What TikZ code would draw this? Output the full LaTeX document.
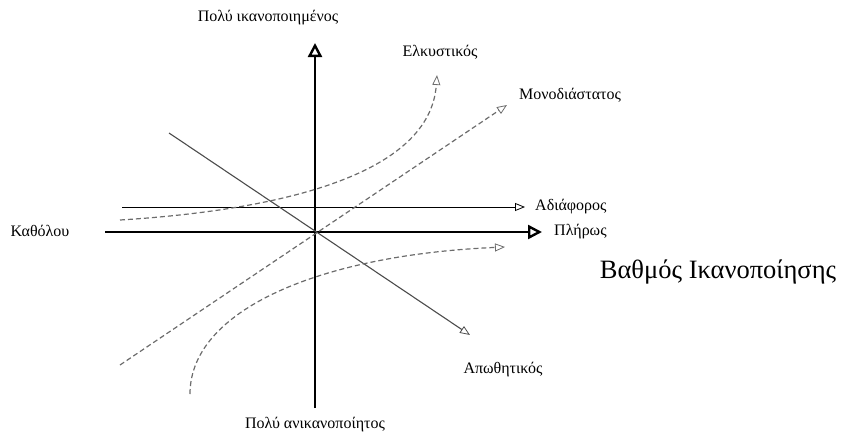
\documentclass[tikz,border=0pt]{standalone}
\usepackage{fontspec}
\setmainfont{Liberation Serif}
\usetikzlibrary{positioning,arrows.meta}

\tikzset{
  axisline/.style={line width=2.8pt, -{Triangle[open, length=14pt, width=14pt, line width=2.4pt]}},
  thinarrow/.style={-{Triangle[open, length=10pt, width=8pt, line width=0.8pt]}},
  curveline/.style={thinarrow, gray!85!black, line width=1.2pt, dash pattern=on 5pt off 3pt},
  lbl/.style={font=\fontsize{16}{18}\selectfont, inner sep=1pt},
}

\begin{document}
\begin{tikzpicture}[x=1pt, y=-1pt]
  \useasboundingbox (0,0) rectangle (848,437);
  % --- axes ---
  \coordinate (O) at (315,232);
  \coordinate (xl) at (105,232);
  \coordinate (xr) at (542,232);
  \coordinate (yb) at (315,408);
  \coordinate (yt) at (315,43);
  \draw[line width=2.8pt] (xl) -- (O);
  \draw[axisline] (O) -- (xr);
  \draw[line width=2.8pt] (yb) -- (O);
  \draw[axisline] (O) -- (yt);
  \node[lbl] (top) at (268,18) {Πολύ ικανοποιημένος};
  \node[lbl] (bottom) at (315,425) {Πολύ ανικανοποίητος};
  \node[lbl] (none) at (40,231) {Καθόλου};
  \node[lbl, right=11pt of xr] (full) {Πλήρως};
  \node[font=\fontsize{26.5}{30}\selectfont] (degree) at (718,272) {Βαθμός Ικανοποίησης};

  % --- indifferent ---
  \coordinate (ind0) at (122,207);
  \coordinate (ind1) at (525,207);
  \draw[thinarrow, line width=0.9pt] (ind0) -- (ind1);
  \node[lbl, right=9pt of ind1] (indiff) {Αδιάφορος};

  % --- reverse ---
  \coordinate (rev0) at (169,133);
  \coordinate (rev1) at (470,335);
  \draw[thinarrow, gray!60!black, line width=1.1pt] (rev0) -- (rev1);
  \node[lbl] (reverse) at (503,370) {Απωθητικός};

  % --- one-dimensional ---
  \coordinate (one0) at (120,365);
  \coordinate (one1) at (507,105);
  \draw[curveline] (one0) -- (one1);
  \node[lbl] (onedim) at (570,95) {Μονοδιάστατος};

  % --- attractive ---
  \coordinate (att0) at (120,220);
  \coordinate (att1) at (437,75);
  \draw[curveline] (att0) .. controls (280,210) and (430,175) .. (att1);
  \node[lbl] (attract) at (440,52) {Ελκυστικός};

  % --- must-be ---
  \coordinate (mb0) at (190,394);
  \coordinate (mb1) at (505,247);
  \draw[curveline] (mb0) .. controls (190,310) and (320,255) .. (mb1);
\end{tikzpicture}
\end{document}
